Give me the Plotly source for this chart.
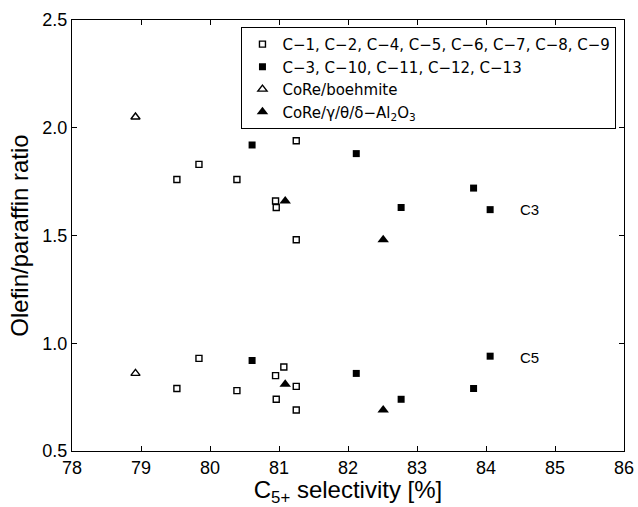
import plotly.graph_objects as go

# C3 / C5 olefin-paraffin ratio vs C5+ selectivity
open_sq_name = "C\u22121, C\u22122, C\u22124, C\u22125, C\u22126, C\u22127, C\u22128, C\u22129"
open_sq_c3_x = [79.52, 79.84, 80.39, 80.95, 80.96, 81.25, 81.25]
open_sq_c3_y = [1.76, 1.83, 1.76, 1.66, 1.63, 1.48, 1.94]
open_sq_c5_x = [79.52, 79.84, 80.39, 80.95, 80.96, 81.07, 81.25, 81.25]
open_sq_c5_y = [0.79, 0.93, 0.78, 0.85, 0.74, 0.89, 0.80, 0.69]

filled_sq_name = "C\u22123, C\u221210, C\u221211, C\u221212, C\u221213"
filled_sq_c3_x = [80.61, 82.12, 82.77, 83.82, 84.06]
filled_sq_c3_y = [1.92, 1.88, 1.63, 1.72, 1.62]
filled_sq_c5_x = [80.61, 82.12, 82.77, 83.82, 84.06]
filled_sq_c5_y = [0.92, 0.86, 0.74, 0.79, 0.94]

open_tri_name = "CoRe/boehmite"
open_tri_c3_x = [78.92]
open_tri_c3_y = [2.05]
open_tri_c5_x = [78.92]
open_tri_c5_y = [0.86]

filled_tri_name = "CoRe/\u03b3/\u03b8/\u03b4\u2212Al<sub>2</sub>O<sub>3</sub>"
filled_tri_c3_x = [81.09, 82.51]
filled_tri_c3_y = [1.66, 1.48]
filled_tri_c5_x = [81.09, 82.51]
filled_tri_c5_y = [0.81, 0.69]

x_ticks = [78, 79, 80, 81, 82, 83, 84, 85, 86]
y_ticks = [0.5, 1.0, 1.5, 2.0, 2.5]

labels = ["C3", "C5"]
label_x = [84.47, 84.47]
label_y = [1.62, 0.935]

FONT = "Liberation Sans, Arial, Helvetica, sans-serif"

fig = go.Figure()

def add(name, xs3, ys3, xs5, ys5, symbol, size, filled):
    fig.add_trace(go.Scatter(
        x=xs3 + xs5, y=ys3 + ys5, mode="markers", name=name,
        marker=dict(symbol=symbol, size=size,
                    color="black" if filled else "white",
                    line=dict(color="black", width=1.4 if not filled else 0)),
    ))

add(open_sq_name, open_sq_c3_x, open_sq_c3_y, open_sq_c5_x, open_sq_c5_y, "square", 6, False)
add(filled_sq_name, filled_sq_c3_x, filled_sq_c3_y, filled_sq_c5_x, filled_sq_c5_y, "square", 7, True)
add(open_tri_name, open_tri_c3_x, open_tri_c3_y, open_tri_c5_x, open_tri_c5_y, "triangle-up", 8, False)
add(filled_tri_name, filled_tri_c3_x, filled_tri_c3_y, filled_tri_c5_x, filled_tri_c5_y, "triangle-up", 10, True)

for t, lx, ly in zip(labels, label_x, label_y):
    fig.add_annotation(x=lx, y=ly, text=t, showarrow=False, xanchor="left",
                       yanchor="middle", font=dict(size=15, color="black", family=FONT))

axis_common = dict(showline=True, linecolor="black", linewidth=1, mirror="ticks",
                   ticks="inside", ticklen=5, tickcolor="black", showgrid=False,
                   zeroline=False, automargin=False,
                   tickfont=dict(size=18, color="black", family=FONT))

fig.update_layout(
    template="none",
    width=638, height=507, autosize=False,
    margin=dict(l=72, r=14, t=20, b=56, pad=0),
    paper_bgcolor="white", plot_bgcolor="white",
    font=dict(family=FONT, color="black"),
    xaxis=dict(range=[78, 86], tickvals=x_ticks, ticktext=[str(v) for v in x_ticks],
               title=dict(text="C<sub>5+</sub> selectivity [%]", font=dict(size=24), standoff=0),
               **axis_common),
    yaxis=dict(range=[0.5, 2.5], tickvals=y_ticks, ticktext=[f"{v:.1f}" for v in y_ticks],
               title=dict(text="Olefin/paraffin ratio", font=dict(size=24), standoff=6),
               **axis_common),
    legend=dict(x=0.307, y=0.984, xanchor="left", yanchor="top",
                bordercolor="black", borderwidth=1, bgcolor="white",
                font=dict(size=15, color="black", family="DejaVu Sans, Liberation Sans, sans-serif")),
)

fig.write_html("out.html", config={"displayModeBar": False},
               post_script="document.body.style.margin='0';")
